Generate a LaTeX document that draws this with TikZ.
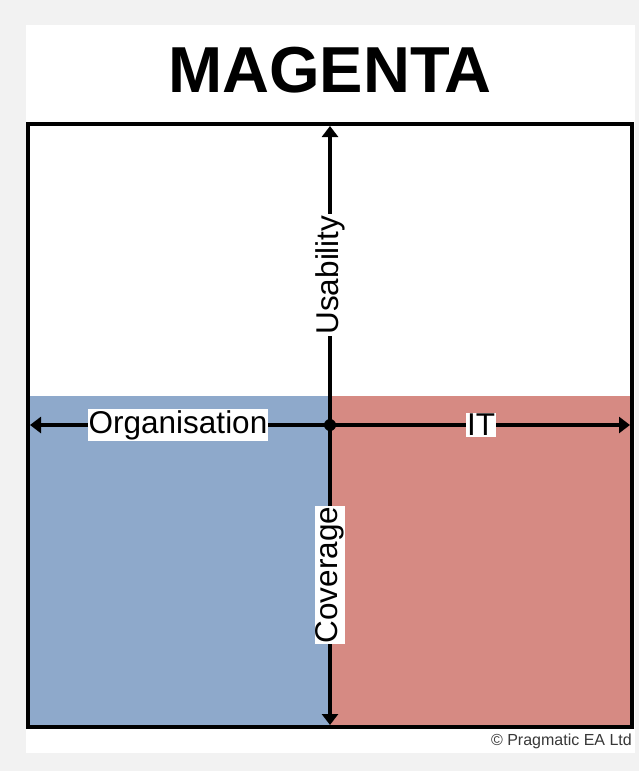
\documentclass[tikz,border=0pt]{standalone}
\usepackage{fontspec}
\setmainfont{Liberation Sans}
\usetikzlibrary{arrows.meta}
\definecolor{pagegrey}{RGB}{242,242,242}
\definecolor{orgblue}{RGB}{142,169,203}
\definecolor{itred}{RGB}{214,138,131}
\definecolor{notegrey}{RGB}{56,56,56}

\begin{document}
\begin{tikzpicture}[x=1pt,y=-1pt,
    axis/.style={line width=3.5pt,-{Triangle[length=11pt,width=16pt]}},
    axislabel/.style={fill=white,inner sep=1pt,font=\fontsize{31.5}{32}\selectfont}]
    \useasboundingbox (0,0) rectangle (639,771);

    % Page
    \fill[pagegrey] (0,0) rectangle (639,771);
    \fill[white] (26,25) rectangle (635,753);

    % Title
    \node[font=\fontsize{65}{65}\bfseries\selectfont] (title) at (330,70) {MAGENTA};

    % Quadrants
    \fill[orgblue] (28,396) rectangle (330,727);
    \fill[itred] (330,396) rectangle (632,727);

    % Frame
    \draw[line width=3.5pt] (28,124) rectangle (632,727);

    % Axes
    \coordinate (centre) at (330,425);
    \coordinate (up) at (330,126);
    \coordinate (down) at (330,725);
    \coordinate (left) at (30,425);
    \coordinate (right) at (630,425);
    \draw[axis] (centre) -- (up);
    \draw[axis] (centre) -- (down);
    \draw[axis] (centre) -- (left);
    \draw[axis] (centre) -- (right);
    \fill (centre) circle (6pt);

    % Labels
    \node[axislabel,rotate=90] (usability) at (330,275) {Usability};
    \node[axislabel,rotate=90] (coverage) at (330,575) {Coverage};
    \node[axislabel] (organisation) at (178,425) {Organisation};
    \node[axislabel] (it) at (481,425) {IT};

    % Copyright
    \node[anchor=east,inner sep=0pt,text=notegrey,font=\fontsize{16}{16}\selectfont] (note) at (632,741) {© Pragmatic EA Ltd};
\end{tikzpicture}
\end{document}
